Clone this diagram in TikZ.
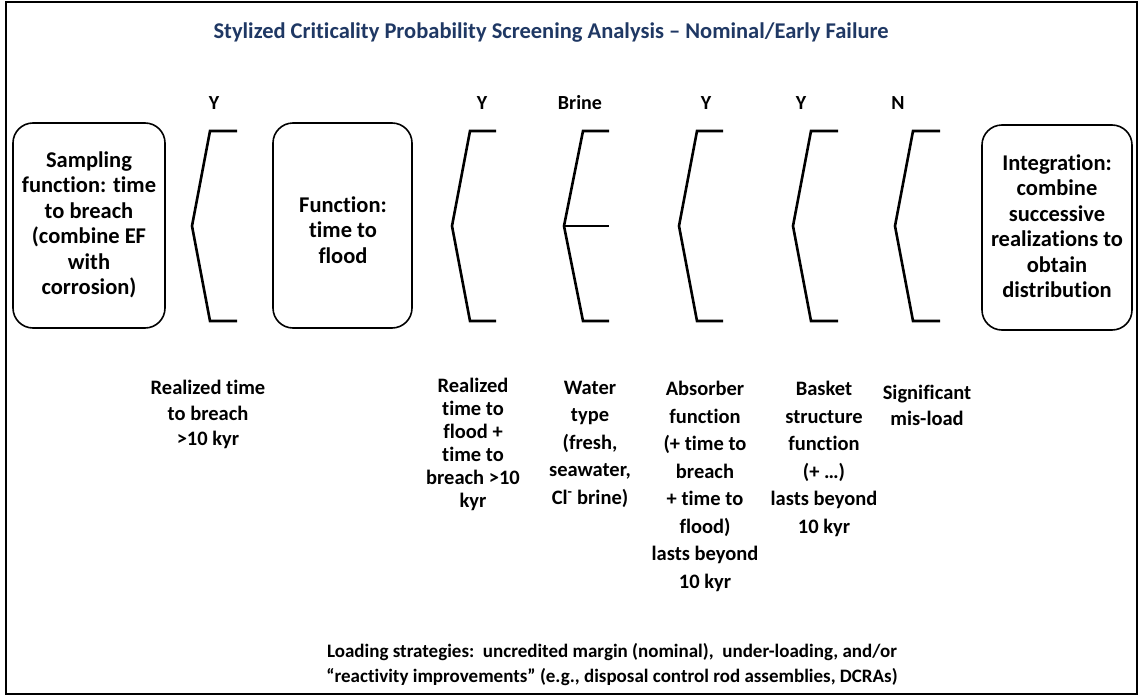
\documentclass[tikz,border=0pt]{standalone}
\usepackage{fontspec}
\setmainfont{Carlito}[Ligatures={TeX,NoCommon}]
\definecolor{titleblue}{RGB}{31,56,100}
\newcommand{\mybrk}[3]{%
  \draw[brk] (#3,131) -- (#2,131) -- (#1,226) -- (#2,321) -- (#3,321);}
\begin{document}
\begin{tikzpicture}[x=1pt,y=-1pt,
  box/.style={draw,line width=1.6pt,rounded corners=20pt},
  brk/.style={line width=2.6pt,line join=miter},
  boxtext/.style={font=\bfseries\fontsize{22.5}{25.5}\selectfont,align=center,inner sep=0pt},
  lbl/.style={font=\bfseries\fontsize{20.5}{27.5}\selectfont,align=center,inner sep=0pt,anchor=north},
  yn/.style={font=\bfseries\fontsize{20}{24}\selectfont,inner sep=0pt}]
\useasboundingbox (0,0) rectangle (1138,696);
\fill[white] (0,0) rectangle (1138,696);
\draw[line width=2.5pt] (6,2) rectangle (1137,694);
% title
\node[font=\bfseries\fontsize{22.5}{26}\selectfont,text=titleblue,inner sep=0pt] (title) at (551,33)
  {Stylized Criticality Probability Screening Analysis – Nominal/Early Failure};
% boxes
\draw[box] (13,123) rectangle (165,328);
\node[boxtext] (b1) at (89,225) {Sampling\\function: time\\to breach\\(combine EF\\with\\corrosion)};
\draw[box] (273,123) rectangle (412,328);
\node[boxtext] (b2) at (343,230) {Function:\\time to\\flood};
\draw[box] (982,125) rectangle (1132,330);
\node[boxtext] (b3) at (1057,226) {Integration:\\combine\\successive\\realizations to\\obtain\\distribution};
% brackets
\mybrk{192}{210}{237}
\mybrk{452}{470}{496}
\mybrk{564}{583}{609}
\draw[brk] (564,226) -- (609,226);
\mybrk{679}{697}{723}
\mybrk{793}{811}{838}
\mybrk{895}{913}{940}
% decision labels
\node[yn] (y1) at (214,103) {Y};
\node[yn] (y2) at (482,103) {Y};
\node[yn] (y3) at (580,103) {Brine};
\node[yn] (y4) at (706,103) {Y};
\node[yn] (y5) at (801,103) {Y};
\node[yn] (y6) at (898,103) {N};
% bottom labels
\node[lbl,font=\bfseries\fontsize{20.5}{25.5}\selectfont] (l1) at (208,380) {Realized time\\to breach\\>10 kyr};
\node[lbl,font=\bfseries\fontsize{20.5}{23}\selectfont] (l2) at (473,378) {Realized\\time to\\flood +\\time to\\breach >10\\kyr};
\node[lbl] (l3) at (590,381) {Water\\type\\(fresh,\\seawater,\\Cl\textsuperscript{-} brine)};
\node[lbl] (l4) at (705,381) {Absorber\\function\\(+ time to\\breach\\+ time to\\flood)\\lasts beyond\\10 kyr};
\node[lbl] (l5) at (824,381) {Basket\\structure\\function\\(+ …)\\lasts beyond\\10 kyr};
\node[lbl,font=\bfseries\fontsize{20.5}{26}\selectfont] (l6) at (927,385) {Significant\\mis-load};
% footer
\node[font=\bfseries\fontsize{19}{25}\selectfont,align=center,inner sep=0pt] (foot) at (612,665)
  {Loading strategies:\ \ uncredited margin (nominal),\ \ under-loading, and/or\\“reactivity improvements” (e.g., disposal control rod assemblies, DCRAs)};
\end{tikzpicture}
\end{document}
